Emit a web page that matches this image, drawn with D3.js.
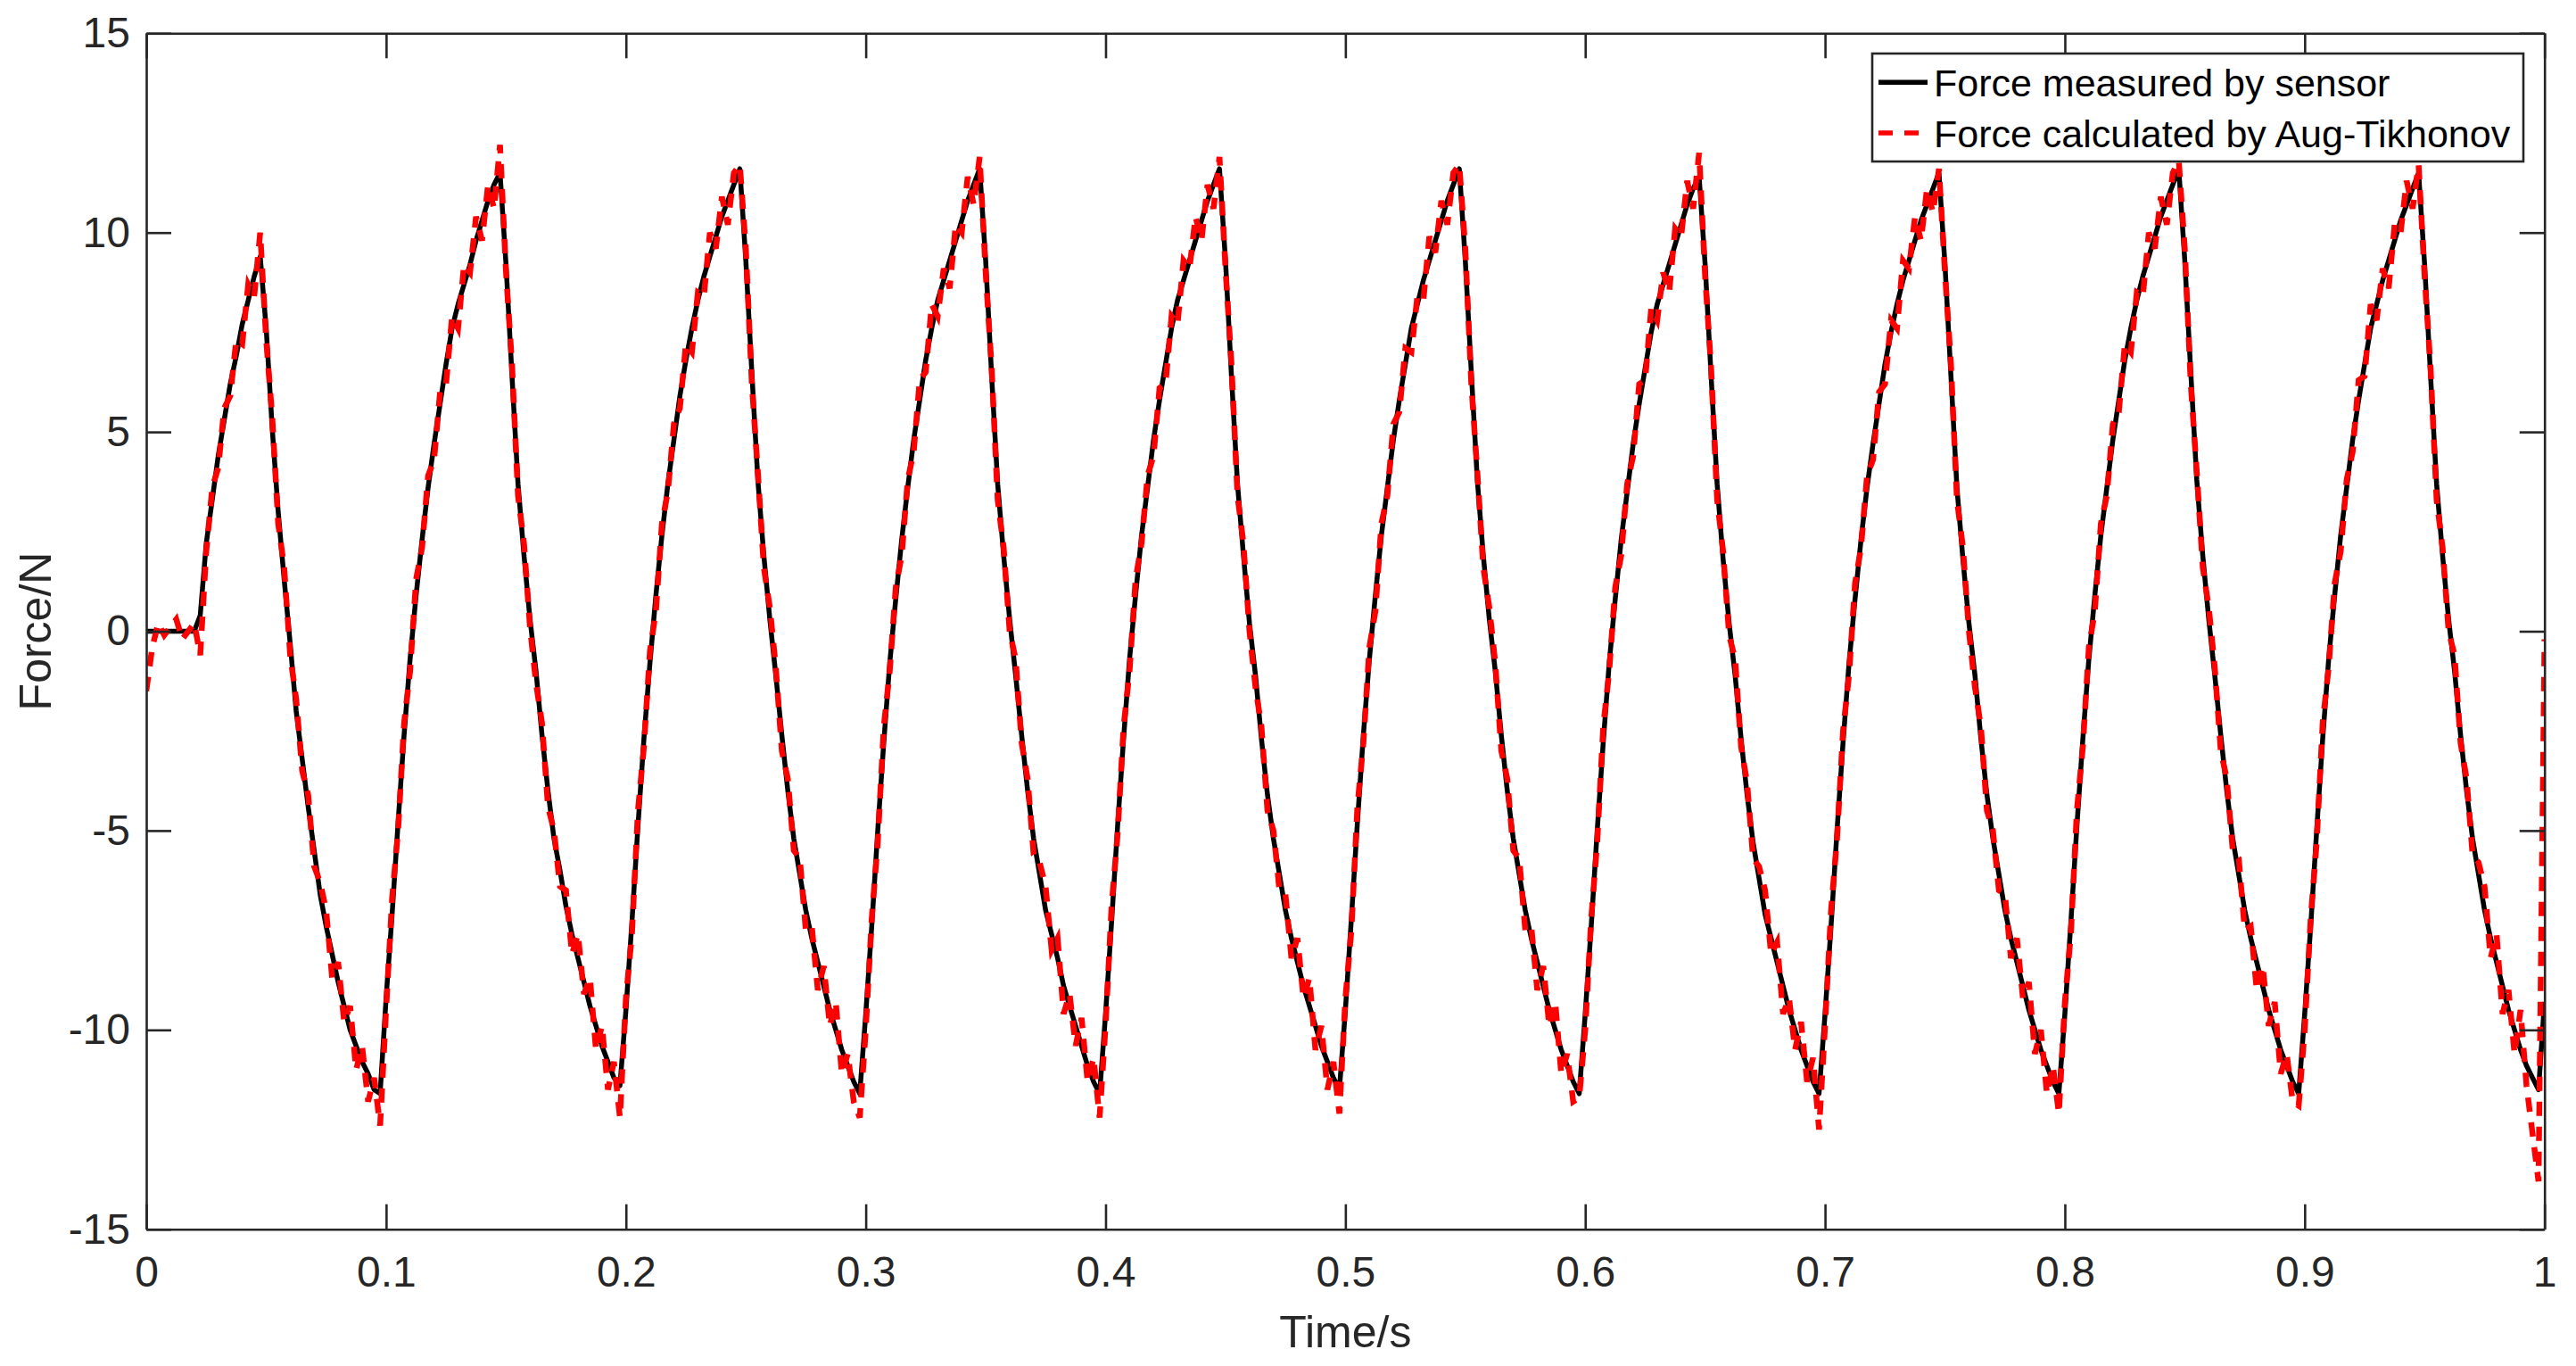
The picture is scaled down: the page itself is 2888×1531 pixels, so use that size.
<!DOCTYPE html>
<html><head><meta charset="utf-8">
<script src="https://cdn.jsdelivr.net/npm/d3@7"></script>
<style>html,body{margin:0;padding:0;background:#fff;} svg{display:block;}</style>
</head><body><svg id="chart" width="2888" height="1531"></svg>
<script>
// sampling interval of both recorded series (seconds)
const sampleInterval = 0.0025;

// Force measured by sensor (N), one row per 0.1 s
const forceSensor = [
  0,0,0,0,0,0,0,0,0,0.4,2.2,3.3,4.4,5.3,6.2,6.9,7.7,8.3,8.9,9.4,7.6,5.1,3.0,1.3,-0.3,-2.0,-3.2,-4.4,-5.5,-6.6,-7.4,-8.1,-8.8,-9.4,-10.0,-10.4,-10.8,-11.1,-11.5,-11.6,
  -9.2,-7.1,-4.8,-2.6,-0.7,0.9,2.3,3.6,4.7,5.7,6.7,7.6,8.2,8.7,9.2,9.8,10.3,10.8,11.2,11.5,9.2,6.4,3.7,1.9,0.3,-1.0,-2.6,-4.0,-5.2,-6.0,-6.9,-7.6,-8.2,-8.8,-9.4,-9.9,-10.4,-10.8,-11.2,-11.4,
  -9.5,-7.3,-4.9,-2.7,-0.8,0.9,2.4,3.7,4.8,5.9,6.8,7.6,8.3,8.9,9.4,9.9,10.4,10.8,11.2,11.6,9.3,6.5,3.8,1.9,0.3,-1.1,-2.6,-4.0,-5.2,-6.1,-7.0,-7.7,-8.3,-8.9,-9.5,-10.0,-10.5,-10.9,-11.3,-11.6,
  -9.6,-7.4,-5.0,-2.8,-0.8,0.8,2.3,3.6,4.8,5.8,6.8,7.6,8.3,8.8,9.3,9.8,10.3,10.8,11.2,11.6,9.3,6.4,3.7,1.9,0.3,-1.1,-2.6,-4.0,-5.2,-6.1,-7.0,-7.6,-8.2,-8.9,-9.4,-9.9,-10.4,-10.9,-11.3,-11.6,
  -9.6,-7.3,-4.9,-2.7,-0.7,0.9,2.4,3.6,4.8,5.8,6.7,7.6,8.3,8.8,9.3,9.8,10.3,10.8,11.2,11.6,9.3,6.4,3.7,1.9,0.2,-1.1,-2.7,-4.1,-5.2,-6.1,-7.0,-7.7,-8.3,-8.9,-9.4,-9.9,-10.4,-10.8,-11.2,-11.5,
  -9.5,-7.2,-4.8,-2.6,-0.7,0.9,2.4,3.6,4.8,5.8,6.7,7.6,8.2,8.8,9.3,9.8,10.3,10.8,11.2,11.6,9.3,6.5,3.8,1.9,0.3,-1.0,-2.6,-4.0,-5.2,-6.1,-7.0,-7.7,-8.3,-8.9,-9.5,-10.0,-10.5,-10.9,-11.3,-11.6,
  -9.6,-7.4,-5.0,-2.8,-0.8,0.8,2.3,3.5,4.7,5.7,6.6,7.5,8.2,8.7,9.2,9.7,10.2,10.7,11.1,11.4,9.2,6.4,3.7,1.8,0.2,-1.1,-2.7,-4.1,-5.3,-6.2,-7.1,-7.7,-8.3,-8.9,-9.5,-10.0,-10.5,-10.9,-11.3,-11.6,
  -9.6,-7.4,-5.0,-2.8,-0.8,0.8,2.3,3.6,4.7,5.7,6.7,7.5,8.2,8.8,9.3,9.8,10.3,10.7,11.1,11.5,9.2,6.4,3.6,1.8,0.2,-1.1,-2.7,-4.1,-5.2,-6.1,-7.0,-7.7,-8.3,-8.9,-9.5,-10.0,-10.5,-10.9,-11.3,-11.6,
  -9.6,-7.3,-4.9,-2.7,-0.7,0.9,2.4,3.6,4.8,5.8,6.8,7.6,8.3,8.9,9.4,9.9,10.4,10.8,11.2,11.6,9.3,6.5,3.8,1.9,0.3,-1.1,-2.6,-4.0,-5.2,-6.1,-7.0,-7.7,-8.3,-8.9,-9.5,-10.0,-10.5,-10.9,-11.3,-11.6,
  -9.6,-7.4,-5.0,-2.7,-0.7,0.9,2.4,3.6,4.8,5.8,6.7,7.6,8.2,8.8,9.3,9.8,10.3,10.7,11.1,11.5,9.2,6.4,3.7,1.9,0.3,-1.0,-2.6,-4.0,-5.2,-6.1,-7.0,-7.7,-8.3,-8.9,-9.5,-10.0,-10.5,-10.9,-11.2,-11.5,
  -9.3
];

// Force calculated by Aug-Tikhonov (N), one row per 0.1 s
const forceAugTikhonov = [
  -1.5,-0.4,0.2,-0.1,0.1,0.3,-0.2,0.0,0.2,-0.6,2.0,3.6,4.1,5.6,5.9,7.3,7.2,8.7,8.4,10.0,7.3,5.4,2.7,1.6,-0.6,-1.7,-3.5,-4.1,-5.9,-6.3,-7.0,-8.7,-8.3,-9.8,-9.4,-11.0,-10.4,-11.8,-11.2,-12.4,
  -9.5,-6.7,-5.0,-2.3,-1.0,1.3,2.1,3.9,4.3,6.0,6.2,7.9,7.6,9.2,9.0,10.4,9.8,11.2,10.6,12.2,9.0,6.7,3.4,2.2,0.1,-1.3,-2.3,-4.4,-5.0,-6.4,-6.5,-8.1,-7.6,-9.1,-8.7,-10.5,-9.9,-11.5,-10.8,-12.2,
  -9.2,-7.6,-4.5,-2.9,-0.5,0.5,2.7,3.5,5.2,5.6,7.2,7.0,8.5,8.4,10.0,9.6,10.9,10.2,11.5,11.7,9.6,6.2,4.0,1.6,0.6,-0.9,-3.0,-3.7,-5.5,-5.7,-7.5,-7.4,-9.0,-8.4,-9.9,-9.3,-11.1,-10.6,-11.8,-12.2,
  -10.0,-7.2,-5.3,-2.4,-1.0,1.1,1.9,3.8,4.5,6.3,6.5,8.2,7.9,9.1,8.6,10.2,10.0,11.4,10.7,11.9,9.0,6.6,3.3,2.1,0.0,-0.7,-2.8,-3.7,-5.6,-5.8,-6.4,-8.0,-7.7,-9.6,-9.1,-10.4,-9.7,-11.3,-10.7,-12.2,
  -9.9,-6.9,-5.1,-2.4,-1.0,1.3,2.2,3.9,4.4,6.1,6.2,7.9,7.7,9.3,9.1,10.4,9.8,11.2,10.6,11.9,9.1,6.7,3.4,2.2,0.0,-1.4,-2.4,-4.5,-5.0,-6.5,-6.6,-8.2,-7.7,-9.2,-8.7,-10.5,-9.9,-11.5,-10.8,-12.1,
  -9.2,-7.5,-4.4,-2.8,-0.4,0.5,2.7,3.4,5.2,5.5,7.1,7.0,8.4,8.3,9.9,9.5,10.8,10.2,11.5,11.7,9.6,6.2,4.0,1.6,0.6,-0.8,-3.0,-3.7,-5.5,-5.7,-7.5,-7.4,-9.0,-8.4,-9.9,-9.3,-11.1,-10.6,-11.8,-11.7,
  -10.0,-7.2,-5.3,-2.4,-1.0,1.1,1.9,3.7,4.4,6.2,6.3,8.1,7.8,9.0,8.5,10.1,9.9,11.3,10.6,12.0,8.9,6.6,3.3,2.0,-0.1,-0.7,-2.9,-3.8,-5.7,-5.9,-6.5,-8.1,-7.8,-9.6,-9.2,-10.5,-9.8,-11.3,-10.7,-12.5,
  -9.9,-7.0,-5.2,-2.5,-1.1,1.2,2.1,3.9,4.3,6.0,6.2,7.8,7.6,9.3,9.1,10.4,9.8,11.1,10.5,11.6,9.0,6.7,3.3,2.1,0.0,-1.4,-2.4,-4.5,-5.0,-6.5,-6.6,-8.2,-7.7,-9.2,-8.8,-10.6,-10.0,-11.6,-10.9,-12.1,
  -9.3,-7.6,-4.5,-2.9,-0.4,0.5,2.7,3.4,5.2,5.5,7.2,7.0,8.5,8.4,10.0,9.6,10.9,10.2,11.5,11.8,9.6,6.2,4.0,1.6,0.6,-0.9,-3.0,-3.7,-5.5,-5.7,-7.5,-7.4,-9.0,-8.4,-9.9,-9.3,-11.1,-10.6,-11.8,-11.9,
  -10.0,-7.2,-5.3,-2.3,-0.9,1.2,2.0,3.8,4.5,6.3,6.4,8.2,7.8,9.1,8.6,10.2,10.0,11.3,10.6,11.7,8.9,6.6,3.3,2.1,0.0,-0.6,-2.8,-3.7,-5.6,-5.8,-6.4,-8.2,-7.6,-9.6,-9.0,-10.6,-9.5,-11.4,-12.6,-13.8,
  -0.2
];

const xTickValues = [0,0.1,0.2,0.3,0.4,0.5,0.6,0.7,0.8,0.9,1];
const xTickLabels = ["0","0.1","0.2","0.3","0.4","0.5","0.6","0.7","0.8","0.9","1"];
const yTickValues = [-15,-10,-5,0,5,10,15];
const yTickLabels = ["-15","-10","-5","0","5","10","15"];
const seriesNames = ["Force measured by sensor","Force calculated by Aug-Tikhonov"];
const xTitle = "Time/s";
const yTitle = "Force/N";

const FONT = "'Liberation Sans', Arial, Helvetica, sans-serif";
const AXC = "#262626";
const svg = d3.select("#chart");
const L = 164, R = 2852.7, T = 37.3, B = 1377.7;
const x = d3.scaleLinear().domain([0, 1]).range([L, R]);
const y = d3.scaleLinear().domain([-15, 15]).range([B, T]);

svg.append("rect").attr("width", 2888).attr("height", 1531).attr("fill", "#fff");

svg.append("defs").append("clipPath").attr("id", "clip")
  .append("rect").attr("x", L).attr("y", T - 20).attr("width", R - L).attr("height", B - T + 40);

const lineGen = d3.line()
  .x((d, i) => x(i * sampleInterval))
  .y(d => y(d));

const plot = svg.append("g").attr("clip-path", "url(#clip)");
plot.append("path").datum(forceSensor)
  .attr("d", lineGen).attr("fill", "none").attr("stroke", "#000")
  .attr("stroke-width", 5.5).attr("stroke-linejoin", "round");
plot.append("path").datum(forceAugTikhonov)
  .attr("d", lineGen).attr("fill", "none").attr("stroke", "#ff0000")
  .attr("stroke-width", 6.5).attr("stroke-dasharray", "16,12").attr("stroke-linejoin", "miter");

function styleAxis(g) {
  g.selectAll(".domain").attr("stroke", AXC).attr("stroke-width", 2.6);
  g.selectAll(".tick line").attr("stroke", AXC).attr("stroke-width", 2.6);
  g.selectAll(".tick text").attr("fill", AXC).style("font-family", FONT).style("font-size", "48px");
}

const gx = svg.append("g").attr("transform", `translate(0,${B})`)
  .call(d3.axisBottom(x).tickValues(xTickValues).tickFormat((d, i) => xTickLabels[i])
    .tickSizeInner(-28).tickSizeOuter(0).tickPadding(30));
styleAxis(gx);
const gxt = svg.append("g").attr("transform", `translate(0,${T})`)
  .call(d3.axisTop(x).tickValues(xTickValues).tickFormat("").tickSizeInner(-28).tickSizeOuter(0));
styleAxis(gxt);
const gy = svg.append("g").attr("transform", `translate(${L},0)`)
  .call(d3.axisLeft(y).tickValues(yTickValues).tickFormat((d, i) => yTickLabels[i])
    .tickSizeInner(-28).tickSizeOuter(0).tickPadding(18));
styleAxis(gy);
const gyr = svg.append("g").attr("transform", `translate(${R},0)`)
  .call(d3.axisRight(y).tickValues(yTickValues).tickFormat("").tickSizeInner(-28).tickSizeOuter(0));
styleAxis(gyr);

svg.append("text").attr("x", (L + R) / 2).attr("y", 1510).attr("text-anchor", "middle")
  .style("font-family", FONT).style("font-size", "50px").attr("fill", AXC).text(xTitle);
svg.append("text").attr("transform", `translate(57,${(T + B) / 2}) rotate(-90)`).attr("text-anchor", "middle")
  .style("font-family", FONT).style("font-size", "50px").attr("fill", AXC).text(yTitle);

// legend
const lg = svg.append("g");
lg.append("rect").attr("x", 2099).attr("y", 60).attr("width", 730).attr("height", 121)
  .attr("fill", "#fff").attr("stroke", AXC).attr("stroke-width", 2.6);
const rows = [
  {name: seriesNames[0], color: "#000", dash: null, ly: 92.3, ty: 108},
  {name: seriesNames[1], color: "#ff0000", dash: "16,13", ly: 149, ty: 165}
];
rows.forEach(r => {
  const ln = lg.append("line").attr("x1", 2106).attr("x2", 2161).attr("y1", r.ly).attr("y2", r.ly)
    .attr("stroke", r.color).attr("stroke-width", 5.5);
  if (r.dash) ln.attr("stroke-dasharray", r.dash);
  lg.append("text").attr("x", 2168).attr("y", r.ty).style("font-family", FONT).style("font-size", "43px")
    .attr("fill", "#000").text(r.name);
});
</script></body></html>
